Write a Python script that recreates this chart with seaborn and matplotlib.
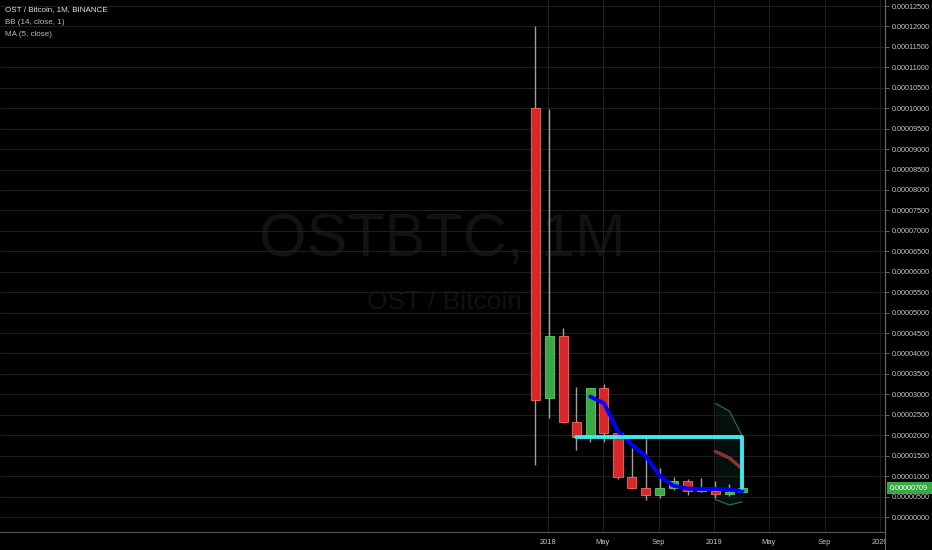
import numpy as np
import pandas as pd
import matplotlib
matplotlib.use('Agg')
import matplotlib.pyplot as plt
import matplotlib.dates as mdates
from matplotlib.patches import Rectangle
import seaborn as sns

# monthly OHLC, OST/BTC
months = pd.date_range('2017-12-01', periods=16, freq='MS')
opens = [0.0001000, 0.0000291, 0.0000443, 0.0000232, 0.0000196, 0.0000316, 0.0000205, 0.0000098,
         0.0000071, 0.0000054, 0.0000071, 0.0000088, 0.0000064, 0.0000064, 0.0000056, 0.0000061]
highs = [0.0001200, 0.0000998, 0.0000462, 0.0000318, 0.0000316, 0.0000325, 0.0000205, 0.0000169,
         0.0000198, 0.0000120, 0.0000098, 0.0000093, 0.0000095, 0.0000088, 0.0000081, 0.0000073]
lows = [0.0000127, 0.0000242, 0.0000230, 0.0000164, 0.0000183, 0.0000183, 0.0000093, 0.0000071,
        0.0000042, 0.0000046, 0.0000066, 0.0000054, 0.0000062, 0.0000046, 0.0000052, 0.0000060]
closes = [0.0000285, 0.0000443, 0.0000232, 0.0000196, 0.0000316, 0.0000205, 0.0000098, 0.0000071,
          0.0000054, 0.0000071, 0.0000088, 0.0000064, 0.0000065, 0.0000056, 0.0000061, 0.00000709]

# cyan drawing on the chart
line_dates = pd.to_datetime(['2018-03-03', '2019-03-03', '2019-03-03'])
line_vals = [0.0000196, 0.0000196, 0.00000709]

xtick_dates = pd.to_datetime(['2018-01-01', '2018-05-01', '2018-09-01', '2019-01-01',
                              '2019-05-01', '2019-09-01', '2020-01-01'])
xtick_labels = ['2018', 'May', 'Sep', '2019', 'May', 'Sep', '2020']

df = pd.DataFrame({'date': months + pd.Timedelta(days=3), 'open': opens, 'high': highs,
                   'low': lows, 'close': closes})
df['ma'] = df['close'].rolling(5).mean()
df['basis'] = df['close'].rolling(14).mean()
sd = df['close'].rolling(14).std(ddof=0)
df['upper'] = df['basis'] + sd
df['lower'] = df['basis'] - sd

sns.set_style('dark', rc={'axes.facecolor': 'black', 'figure.facecolor': 'black'})
plt.rcParams['font.family'] = ['Liberation Sans', 'DejaVu Sans']

fig = plt.figure(figsize=(9.32, 5.5), dpi=100)
W, H = 932, 550
ax = fig.add_axes([0, 18 / H, 885 / W, 532 / H])
ax.set_facecolor('black')

# watermark
ax.text(0.5, 0.548, 'OSTBTC, 1M', transform=ax.transAxes, ha='center', va='center',
        fontsize=44, color='#121212', zorder=0)
ax.text(0.502, 0.432, 'OST / Bitcoin', transform=ax.transAxes, ha='center', va='center',
        fontsize=19, color='#121212', zorder=0)

# candles
up = df['close'] >= df['open']
x = mdates.date2num(df['date'])
ax.vlines(x, df['low'], df['high'], color='#a0a0a0', linewidth=1, zorder=2)
bottoms = np.minimum(df['open'], df['close'])
heights = np.maximum(np.abs(df['close'] - df['open']), 0.0000003)
ax.bar(x[up], heights[up], bottom=bottoms[up], width=20, color='#3aa845',
       edgecolor='#62cf6c', linewidth=0.6, zorder=3)
ax.bar(x[~up], heights[~up], bottom=bottoms[~up], width=20, color='#d62828',
       edgecolor='#ff6a5a', linewidth=0.6, zorder=3)

# bollinger bands
bb = df.dropna(subset=['basis'])
ax.fill_between(mdates.date2num(bb['date']), bb['lower'], bb['upper'], color='#0f2a20',
                alpha=0.4, zorder=1, linewidth=0)
sns.lineplot(x=mdates.date2num(bb['date']), y=bb['upper'], ax=ax, color='#1f7a5a', linewidth=0.8, zorder=4)
sns.lineplot(x=mdates.date2num(bb['date']), y=bb['lower'], ax=ax, color='#1f7a5a', linewidth=0.8, zorder=4)
sns.lineplot(x=mdates.date2num(bb['date']), y=bb['basis'], ax=ax, color='#8a3232', linewidth=2.5, zorder=4)

# MA(5)
ma = df.dropna(subset=['ma'])
sns.lineplot(x=mdates.date2num(ma['date']), y=ma['ma'], ax=ax, color='#0000ff', linewidth=2.8, zorder=5)

# cyan drawing
ax.plot(mdates.date2num(line_dates), line_vals, color='#3de8f0', linewidth=2.8, zorder=6)

# axes
x0 = mdates.date2num(pd.Timestamp('2018-01-01'))
ax.set_xlim(x0 - 548 / 0.4548, x0 + 337 / 0.4548)
ax.set_ylim(-15 / 511 * 0.000125, 0.000125 + 6 / 511 * 0.000125)
yt = np.arange(0, 0.000125 + 1e-10, 0.000005)
ax.set_yticks(yt)
ax.set_yticklabels([f'{v:.8f}' for v in yt])
ax.yaxis.tick_right()
ax.set_xticks(mdates.date2num(xtick_dates))
ax.set_xticklabels(xtick_labels)
ax.set_xlabel('')
ax.set_ylabel('')
ax.tick_params(axis='y', colors='#7a7a7a', labelcolor='#c8c8c8', labelsize=5.2,
               length=3, width=0.6, pad=2, right=True, left=False)
ax.tick_params(axis='x', colors='#7a7a7a', labelcolor='#c8c8c8', labelsize=5.4,
               length=0, pad=5)
ax.grid(True, color='#1e1e1e', linewidth=0.8)
for s in ['left', 'top']:
    ax.spines[s].set_visible(False)
ax.spines['right'].set_color('#6a6a6a')
ax.spines['bottom'].set_color('#5a5a5a')
ax.spines['right'].set_linewidth(0.8)
ax.spines['bottom'].set_linewidth(0.8)

# hide part of the x label under the price scale
fig.patches.append(Rectangle((885.5 / W, 0), (W - 885.5) / W, 18 / H, transform=fig.transFigure,
                             facecolor='black', edgecolor='none', zorder=5))
fig.lines.append(plt.Line2D([885 / W, 885 / W], [0, 18 / H], transform=fig.transFigure,
                            color='#6a6a6a', linewidth=0.8, zorder=6))

# last price label
fig.patches.append(Rectangle((887 / W, 1 - 494 / H), 45 / W, 12 / H, transform=fig.transFigure,
                             facecolor='#3aa845', edgecolor='none', zorder=9))
fig.text(909 / W, 1 - 488 / H, f'{closes[-1]:.8f}', ha='center', va='center',
         fontsize=5.2, color='white', zorder=10)

# legend text
fig.text(5 / W, 1 - 10 / H, 'OST / Bitcoin, 1M, BINANCE', fontsize=5.8, color='#e6e6e6', va='center')
fig.text(5 / W, 1 - 22 / H, 'BB (14, close, 1)', fontsize=5.8, color='#bdbdbd', va='center')
fig.text(5 / W, 1 - 34 / H, 'MA (5, close)', fontsize=5.8, color='#bdbdbd', va='center')

fig.savefig('out.png', dpi=100, facecolor='black')
